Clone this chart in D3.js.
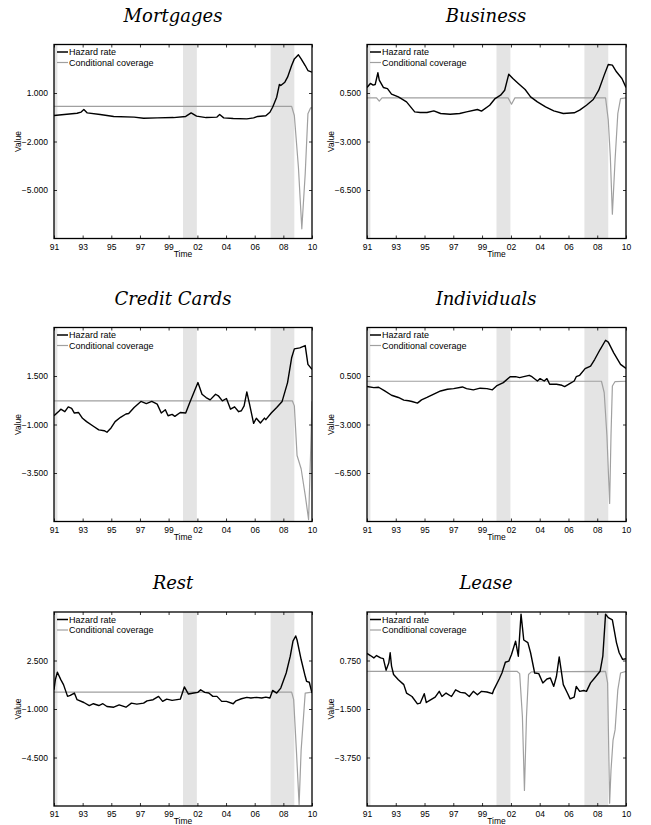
<!DOCTYPE html>
<html>
<head>
<meta charset="utf-8">
<script src="https://cdn.jsdelivr.net/npm/d3@7"></script>
<style>
  html, body { margin: 0; padding: 0; background: #fff; }
  svg { display: block; }
  .tick text { font-family: "Liberation Sans", Arial, sans-serif; font-size: 8.5px; fill: #000; }
  .tick line { stroke: #000; stroke-width: 0.8; }
</style>
</head>
<body>
<svg id="chart" width="651" height="825"></svg>
<script>
// ---------- data ----------
const panelTitles = ["Mortgages", "Business", "Credit Cards", "Individuals", "Rest", "Lease"];
const seriesNames = ["Hazard rate", "Conditional coverage"];

const xTickValues = [1991, 1993.11, 1995.22, 1997.33, 1999.44, 2001.56, 2003.67, 2005.78, 2007.89, 2010];
const xTickLabels = ["91", "93", "95", "97", "99", "02", "04", "06", "08", "10"];

const yDomains = [[-8, 4], [-10, 4], [-6, 4], [-10, 4], [-8, 6], [-6, 3]];
const yTicks = [[-5, -2, 1], [-6.5, -3, 0.5], [-3.5, -1, 1.5], [-6.5, -3, 0.5], [-4.5, -1, 2.5], [-3.75, -1.5, 0.75]];

const recessionStart = [1991, 2000.5, 2006.95];
const recessionEnd   = [1991.25, 2001.52, 2008.7];

// Mortgages
const mortHazT = [1991, 1992.7, 1993.0, 1993.2, 1993.45, 1994.4, 1995.4, 1996.9, 1997.6, 1998.6, 1999.8, 2000.7, 2001.1, 2001.5, 2002.2, 2003.0, 2003.2, 2003.5, 2004.2, 2005.2, 2005.7, 2006.0, 2006.6, 2006.9, 2007.1, 2007.4, 2007.6, 2007.7, 2008.0, 2008.2, 2008.5, 2008.7, 2009.0, 2009.2, 2009.5, 2009.7, 2010];
const mortHazV = [-0.39, -0.25, -0.18, -0.02, -0.23, -0.33, -0.45, -0.49, -0.56, -0.54, -0.52, -0.45, -0.23, -0.43, -0.52, -0.49, -0.33, -0.54, -0.58, -0.60, -0.54, -0.45, -0.41, -0.19, 0.12, 0.74, 1.53, 1.46, 1.67, 1.98, 2.70, 3.11, 3.36, 3.11, 2.70, 2.39, 2.29];
const mortCovT = [1991, 2008.5, 2008.7, 2009.0, 2009.25, 2009.5, 2009.7, 2009.9, 2010];
const mortCovV = [0.17, 0.17, -0.39, -3.59, -7.4, -4.0, -0.29, 0.08, 0.08];

// Business
const busHazT = [1991, 1991.25, 1991.45, 1991.6, 1991.8, 1991.9, 1992.2, 1992.5, 1992.8, 1993.3, 1993.9, 1994.5, 1994.9, 1995.4, 1995.9, 1996.4, 1997.1, 1997.8, 1998.3, 1999.1, 1999.4, 2000.0, 2000.4, 2000.8, 2001.1, 2001.4, 2001.7, 2002.1, 2002.6, 2003.0, 2003.5, 2004.1, 2004.7, 2005.4, 2006.2, 2006.6, 2007.1, 2007.6, 2008.0, 2008.4, 2008.7, 2009.0, 2009.3, 2009.7, 2010];
const busHazV = [0.90, 1.19, 1.07, 1.11, 1.96, 1.43, 0.90, 0.82, 0.42, 0.22, -0.14, -0.86, -0.91, -0.91, -0.79, -0.98, -1.03, -0.98, -0.86, -0.69, -0.81, -0.38, 0.10, 0.34, 0.70, 1.86, 1.55, 1.19, 0.75, 0.22, -0.14, -0.50, -0.79, -0.98, -0.93, -0.74, -0.38, 0.03, 0.70, 1.79, 2.56, 2.51, 2.03, 1.55, 0.90];
const busCovT = [1991, 1991.7, 1991.9, 1992.1, 2001.35, 2001.6, 2001.85, 2008.5, 2008.7, 2008.85, 2009.0, 2009.2, 2009.4, 2009.6, 2010];
const busCovV = [0.15, 0.15, -0.09, 0.15, 0.15, -0.31, 0.15, 0.15, -1.46, -4.1, -8.24, -4.3, -0.98, 0.10, 0.15];

// Credit Cards
const ccHazT = [1991, 1991.4, 1991.5, 1991.8, 1992.05, 1992.3, 1992.5, 1992.8, 1993.1, 1993.4, 1993.9, 1994.3, 1994.7, 1994.9, 1995.2, 1995.5, 1995.9, 1996.3, 1996.5, 1996.9, 1997.4, 1997.8, 1998.2, 1998.6, 1998.9, 1999.2, 1999.4, 1999.7, 1999.9, 2000.3, 2000.7, 2001.0, 2001.3, 2001.6, 2001.9, 2002.2, 2002.5, 2002.9, 2003.1, 2003.4, 2003.7, 2004.0, 2004.3, 2004.6, 2004.8, 2005.0, 2005.2, 2005.4, 2005.7, 2005.9, 2006.2, 2006.5, 2006.6, 2007.0, 2007.4, 2007.8, 2008.2, 2008.5, 2008.7, 2009.1, 2009.5, 2009.7, 2010];
const ccHazV = [-0.55, -0.29, -0.21, -0.34, -0.09, -0.17, -0.41, -0.38, -0.68, -0.85, -1.09, -1.28, -1.32, -1.40, -1.18, -0.85, -0.63, -0.46, -0.43, -0.12, 0.19, 0.08, 0.19, 0.05, -0.41, -0.24, -0.55, -0.48, -0.58, -0.38, -0.41, 0.13, 0.65, 1.16, 0.56, 0.39, 0.27, 0.56, 0.48, 0.22, 0.34, -0.21, -0.09, -0.34, -0.29, -0.04, 0.68, 0.05, -0.94, -0.68, -0.92, -0.67, -0.75, -0.41, -0.12, 0.19, 1.16, 2.44, 2.90, 2.95, 3.07, 2.10, 1.84];
const ccCovT = [1991, 2008.55, 2008.7, 2008.9, 2009.2, 2009.5, 2009.75, 2009.9, 2010];
const ccCovV = [0.22, 0.22, -0.04, -2.6, -3.28, -4.64, -5.9, -2.4, 0.2];

// Individuals
const indHazT = [1991, 1991.5, 1991.85, 1992.3, 1992.8, 1993.3, 1993.7, 1994.05, 1994.3, 1994.7, 1995.0, 1995.4, 1995.9, 1996.4, 1996.9, 1997.35, 1998.0, 1998.3, 1998.8, 1999.3, 1999.8, 2000.2, 2000.5, 2001.0, 2001.5, 2001.9, 2002.2, 2002.5, 2002.9, 2003.1, 2003.5, 2003.7, 2004.0, 2004.2, 2004.4, 2004.9, 2005.3, 2005.5, 2005.9, 2006.2, 2006.35, 2006.6, 2007.0, 2007.4, 2007.7, 2008.1, 2008.5, 2008.7, 2009.1, 2009.6, 2010];
const indHazV = [-0.26, -0.34, -0.31, -0.58, -0.89, -1.05, -1.24, -1.29, -1.34, -1.46, -1.22, -1.05, -0.81, -0.58, -0.46, -0.41, -0.29, -0.41, -0.50, -0.38, -0.41, -0.50, -0.22, 0.02, 0.45, 0.45, 0.38, 0.45, 0.55, 0.45, 0.14, 0.31, 0.14, 0.31, -0.10, -0.10, -0.17, -0.26, -0.03, 0.14, 0.45, 0.55, 1.03, 1.22, 1.69, 2.41, 3.08, 2.94, 2.17, 1.34, 1.05];
const indCovT = [1991, 2008.2, 2008.4, 2008.6, 2008.8, 2008.9, 2009.0, 2009.2, 2010];
const indCovV = [0.12, 0.12, -0.69, -3.8, -8.7, -3.8, -0.22, 0.10, 0.12];

// Rest
const restHazT = [1991, 1991.1, 1991.25, 1991.5, 1991.7, 1992.0, 1992.2, 1992.5, 1992.7, 1993.2, 1993.6, 1993.9, 1994.3, 1994.6, 1994.9, 1995.4, 1995.8, 1996.3, 1996.7, 1997.1, 1997.6, 1997.85, 1998.3, 1998.7, 1999.0, 1999.3, 1999.7, 2000.3, 2000.6, 2000.9, 2001.3, 2001.6, 2001.8, 2002.1, 2002.4, 2002.7, 2003.0, 2003.35, 2003.7, 2004.2, 2004.4, 2004.8, 2005.2, 2005.5, 2005.9, 2006.3, 2006.6, 2006.9, 2007.1, 2007.4, 2007.7, 2008.1, 2008.4, 2008.6, 2008.8, 2008.9, 2009.2, 2009.5, 2009.6, 2009.8, 2010];
const restHazV = [0.39, 1.12, 1.65, 1.12, 0.76, -0.09, -0.02, 0.15, -0.33, -0.53, -0.75, -0.62, -0.75, -0.62, -0.82, -0.87, -0.70, -0.87, -0.58, -0.65, -0.58, -0.41, -0.33, -0.09, -0.45, -0.29, -0.38, -0.29, 0.59, 0.08, 0.15, 0.20, 0.39, 0.20, 0.15, -0.09, -0.09, -0.45, -0.45, -0.62, -0.41, -0.26, -0.16, -0.21, -0.16, -0.21, -0.14, -0.21, 0.34, 0.15, 0.51, 1.60, 2.81, 3.90, 4.27, 3.98, 2.57, 1.36, 1.00, 0.93, 0.15];
const restCovT = [1991, 2008.5, 2008.65, 2008.85, 2009.05, 2009.2, 2009.5, 2010];
const restCovV = [0.22, 0.22, -0.33, -3.97, -7.89, -3.97, 0.15, 0.22];

// Lease
const leaseHazT = [1991, 1991.25, 1991.5, 1991.7, 1992.0, 1992.2, 1992.4, 1992.6, 1992.7, 1992.8, 1992.95, 1993.3, 1993.7, 1993.9, 1994.3, 1994.7, 1994.9, 1995.2, 1995.35, 1995.6, 1996.0, 1996.3, 1996.5, 1996.8, 1997.2, 1997.5, 1997.85, 1998.2, 1998.5, 1998.8, 1999.1, 1999.4, 1999.8, 2000.2, 2000.3, 2000.7, 2000.9, 2001.15, 2001.4, 2001.6, 2001.9, 2002.1, 2002.3, 2002.5, 2002.8, 2003.0, 2003.3, 2003.6, 2003.9, 2004.2, 2004.45, 2004.7, 2004.9, 2005.1, 2005.4, 2005.7, 2005.9, 2006.2, 2006.35, 2006.6, 2006.9, 2007.1, 2007.4, 2007.7, 2008.1, 2008.3, 2008.5, 2008.7, 2009.0, 2009.3, 2009.5, 2009.75, 2010];
const leaseHazV = [1.08, 0.98, 0.87, 0.98, 0.87, 0.84, 0.30, 0.64, 1.11, 0.49, 0.10, -0.14, -0.37, -0.76, -0.92, -1.26, -1.23, -0.79, -1.20, -1.10, -0.95, -0.68, -0.92, -0.76, -0.92, -0.61, -0.73, -0.76, -0.92, -0.68, -0.84, -0.68, -0.71, -0.79, -0.61, -0.11, 0.17, 0.67, 0.72, 1.03, 1.65, 0.95, 2.90, 1.70, 1.58, 1.11, 0.17, 0.14, -0.29, -0.11, -0.06, -0.45, 0.02, 0.92, -0.37, -0.76, -1.03, -0.95, -0.45, -0.68, -0.64, -0.68, -0.29, -0.06, 0.25, 0.95, 2.90, 2.74, 2.63, 1.58, 1.11, 0.80, 0.83];
const leaseCovT = [1991, 2002.0, 2002.2, 2002.4, 2002.55, 2002.7, 2002.85, 2003.05, 2008.5, 2008.65, 2008.8, 2008.9, 2009.05, 2009.2, 2009.4, 2009.6, 2010];
const leaseCovV = [0.25, 0.25, 0.14, -1.85, -5.28, -1.85, 0.10, 0.22, 0.25, -0.29, -5.87, -4.34, -2.94, -2.47, -0.61, 0.17, 0.25];

const hazardT = [mortHazT, busHazT, ccHazT, indHazT, restHazT, leaseHazT];
const hazardV = [mortHazV, busHazV, ccHazV, indHazV, restHazV, leaseHazV];
const coverT = [mortCovT, busCovT, ccCovT, indCovT, restCovT, leaseCovT];
const coverV = [mortCovV, busCovV, ccCovV, indCovV, restCovV, leaseCovV];

// ---------- layout ----------
const colX = [[54, 312], [367, 626]];
const rowY = [[44.5, 238.5], [327.5, 521.5], [612, 806]];
const hazardColor = "#000";
const coverColor = "#a0a0a0";
const bandColor = "#e4e4e4";
const sansFont = "'Liberation Sans', Arial, Helvetica, sans-serif";

const svg = d3.select("#chart");
const fmt = d3.format(".3f");

panelTitles.forEach((title, i) => {
  const [x0, x1] = colX[i % 2];
  const [y0, y1] = rowY[Math.floor(i / 2)];
  const x = d3.scaleLinear().domain([1991, 2010]).range([x0, x1]);
  const y = d3.scaleLinear().domain(yDomains[i]).range([y1, y0]);
  const g = svg.append("g");

  const clipId = "clip" + i;
  svg.append("clipPath").attr("id", clipId)
    .append("rect").attr("x", x0).attr("y", y0).attr("width", x1 - x0).attr("height", y1 - y0);

  // recession bands
  g.selectAll("rect.band").data(recessionStart).join("rect")
    .attr("class", "band")
    .attr("x", (d) => x(d))
    .attr("width", (d, k) => x(recessionEnd[k]) - x(d))
    .attr("y", y0).attr("height", y1 - y0)
    .attr("fill", bandColor);

  // lines
  const line = d3.line().x((d) => x(d[0])).y((d) => y(d[1]));
  const covData = coverT[i].map((t, k) => [t, coverV[i][k]]);
  const hazData = hazardT[i].map((t, k) => [t, hazardV[i][k]]);
  const lg = g.append("g").attr("clip-path", `url(#${clipId})`);
  lg.append("path").datum(covData).attr("d", line)
    .attr("fill", "none").attr("stroke", coverColor).attr("stroke-width", 1.2)
    .attr("stroke-linejoin", "round");
  lg.append("path").datum(hazData).attr("d", line)
    .attr("fill", "none").attr("stroke", hazardColor).attr("stroke-width", 1.4)
    .attr("stroke-linejoin", "round");

  // axes (ticks inward)
  const axL = d3.axisLeft(y).tickValues(yTicks[i]).tickFormat(fmt).tickSizeInner(-3).tickSizeOuter(0).tickPadding(6);
  const axR = d3.axisRight(y).tickValues(yTicks[i]).tickFormat("").tickSizeInner(-3).tickSizeOuter(0);
  const axB = d3.axisBottom(x).tickValues(xTickValues).tickFormat((d, k) => xTickLabels[k]).tickSizeInner(-3).tickSizeOuter(0).tickPadding(5);
  const axT = d3.axisTop(x).tickValues(xTickValues).tickFormat("").tickSizeInner(-3).tickSizeOuter(0);
  g.append("g").attr("transform", `translate(${x0},0)`).call(axL).call((a) => a.select(".domain").remove());
  g.append("g").attr("transform", `translate(${x1},0)`).call(axR).call((a) => a.select(".domain").remove());
  g.append("g").attr("transform", `translate(0,${y1})`).call(axB).call((a) => a.select(".domain").remove());
  g.append("g").attr("transform", `translate(0,${y0})`).call(axT).call((a) => a.select(".domain").remove());
  g.selectAll(".tick text").attr("font-family", null).attr("font-size", null);

  // frame
  g.append("rect").attr("x", x0).attr("y", y0).attr("width", x1 - x0).attr("height", y1 - y0)
    .attr("fill", "none").attr("stroke", "#000").attr("stroke-width", 1.3);

  // legend
  const legY = [y0 + 7.5, y0 + 18];
  const legColors = [hazardColor, coverColor];
  const leg = g.append("g");
  seriesNames.forEach((name, k) => {
    leg.append("line").attr("x1", x0 + 3).attr("x2", x0 + 14).attr("y1", legY[k]).attr("y2", legY[k])
      .attr("stroke", legColors[k]).attr("stroke-width", k === 0 ? 1.5 : 1.2);
    leg.append("text").attr("x", x0 + 15).attr("y", legY[k]).attr("dy", "0.35em")
      .attr("font-family", sansFont).attr("font-size", 9).text(name);
  });

  // titles and labels
  svg.append("text").attr("x", x0 + 119).attr("y", y0 - 23).attr("text-anchor", "middle")
    .attr("font-family", "'DejaVu Serif', serif").attr("font-style", "italic").attr("font-size", 18)
    .text(title);
  svg.append("text").attr("transform", `translate(${x0 - 33},${(y0 + y1) / 2}) rotate(-90)`)
    .attr("text-anchor", "middle").attr("font-family", sansFont).attr("font-size", 8.5).text("Value");
  svg.append("text").attr("x", (x0 + x1) / 2).attr("y", y1 + 18).attr("text-anchor", "middle")
    .attr("font-family", sansFont).attr("font-size", 8.5).text("Time");
});
</script>
</body>
</html>
